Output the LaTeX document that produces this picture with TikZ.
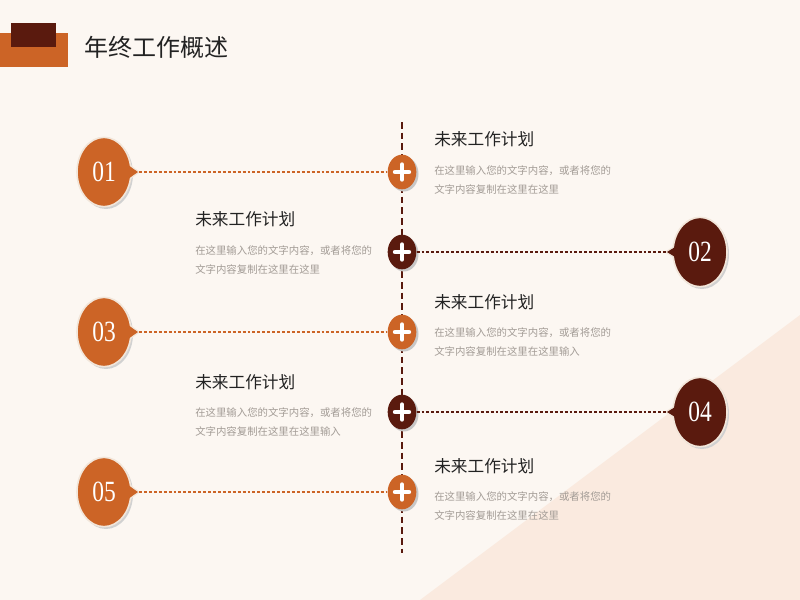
\documentclass[tikz,border=0pt]{standalone}
\usepackage{fontspec}
\newfontfamily\cjk{Noto Sans CJK SC}
\newfontfamily\numfont[FakeStretch=0.8]{Liberation Serif}
\usetikzlibrary{shapes.geometric,calc}
\definecolor{bg}{HTML}{FCF7F2}
\definecolor{tri}{HTML}{FAEADF}
\definecolor{orng}{HTML}{CC6426}
\definecolor{brwn}{HTML}{5A1A0E}
\definecolor{rim}{HTML}{F2E6DA}
\definecolor{desc}{HTML}{A39C96}
\definecolor{ttl}{HTML}{222222}
\begin{document}
\begin{tikzpicture}[x=0.75pt,y=-0.75pt,
  bubble/.style={ellipse,minimum width=40.5pt,minimum height=52pt,inner sep=0pt,text=white,font=\numfont\fontsize{22}{22}\selectfont},
  plusnode/.style={ellipse,minimum width=21.5pt,minimum height=26pt,inner sep=0pt},
  conn/.style={dash pattern=on 2.2pt off 1.5pt,line width=0.9pt},
  vline/.style={draw=brwn,dash pattern=on 5pt off 3pt,line width=1.5pt},
  plusbar/.style={white,line width=3.3pt,line cap=round},
  ttlstyle/.style={anchor=west,inner sep=0pt,text=ttl,font=\cjk\fontsize{12.5}{14}\selectfont},
  descstyle/.style={anchor=north west,inner sep=0pt,align=left,text=desc,font=\cjk\fontsize{7.8}{14.2}\selectfont}]
\useasboundingbox (0,0) rectangle (800,600);
\fill[bg] (0,0) rectangle (800,600);
\fill[tri] (420,600) -- (800,315) -- (800,600) -- cycle;
% header
\fill[orng] (0,33) rectangle (68,67);
\fill[brwn] (11,23) rectangle (56,47);
\node[anchor=west,inner sep=0pt,text=ttl,font=\cjk\fontsize{18}{20}\selectfont] (head) at (84,47) {年终工作概述};
% vertical line
\coordinate (vtop) at (402,122);
\coordinate (vbot) at (402,553);
\draw[vline] (vtop) -- (vbot);
% left bubbles
\foreach \i/\y/\c in {1/172/orng,3/332/orng,5/492/orng}{
  \fill[black!18] (106,\y+2) ellipse (27 and 35);
  \filldraw[fill=\c,draw=rim,line width=1.2pt] (123,\y-15) .. controls (130,\y-6) .. (139,\y) .. controls (130,\y+6) .. (123,\y+15) -- cycle;
  \node[bubble,fill=\c,draw=rim,line width=1.2pt] (b\i) at (104,\y) {0\i};
  \fill[\c] (122,\y-14) .. controls (129,\y-6) .. (138,\y) .. controls (129,\y+6) .. (122,\y+14) -- cycle;
  \coordinate (t\i) at (139,\y);
}
% right bubbles
\foreach \i/\y/\c in {2/252/brwn,4/412/brwn}{
  \fill[black!18] (702,\y+2) ellipse (27 and 35);
  \filldraw[fill=\c,draw=rim,line width=1.2pt] (683,\y-15) .. controls (676,\y-6) .. (666,\y) .. controls (676,\y+6) .. (683,\y+15) -- cycle;
  \node[bubble,fill=\c,draw=rim,line width=1.2pt] (b\i) at (700,\y) {0\i};
  \fill[\c] (684,\y-14) .. controls (677,\y-6) .. (667,\y) .. controls (677,\y+6) .. (684,\y+14) -- cycle;
  \coordinate (t\i) at (666,\y);
}
% plus circles
\foreach \i/\y/\c in {1/172/orng,2/252/brwn,3/332/orng,4/412/brwn,5/492/orng}{
  \fill[black!22] (404,\y+2) ellipse (14.5 and 17.5);
  \node[plusnode,fill=\c] (p\i) at (402,\y) {};
  \draw[plusbar] ($(p\i.center)+(-7,0)$) -- ($(p\i.center)+(7,0)$);
  \draw[plusbar] ($(p\i.center)+(0,-7.5)$) -- ($(p\i.center)+(0,7.5)$);
}
% connectors
\draw[conn,draw=orng] (t1) -- (p1.west);
\draw[conn,draw=orng] (t3) -- (p3.west);
\draw[conn,draw=orng] (t5) -- (p5.west);
\draw[conn,draw=brwn] (p2.east) -- (t2);
\draw[conn,draw=brwn] (p4.east) -- (t4);
% texts
\node[ttlstyle] (h1) at (434,139) {未来工作计划};
\node[descstyle] (d1) at (434,165) {在这里输入您的文字内容，或者将您的\\文字内容复制在这里在这里};
\node[ttlstyle] (h2) at (195,219) {未来工作计划};
\node[descstyle] (d2) at (195,245) {在这里输入您的文字内容，或者将您的\\文字内容复制在这里在这里};
\node[ttlstyle] (h3) at (434,302) {未来工作计划};
\node[descstyle] (d3) at (434,327) {在这里输入您的文字内容，或者将您的\\文字内容复制在这里在这里输入};
\node[ttlstyle] (h4) at (195,382) {未来工作计划};
\node[descstyle] (d4) at (195,407) {在这里输入您的文字内容，或者将您的\\文字内容复制在这里在这里输入};
\node[ttlstyle] (h5) at (434,466) {未来工作计划};
\node[descstyle] (d5) at (434,491) {在这里输入您的文字内容，或者将您的\\文字内容复制在这里在这里};
\end{tikzpicture}
\end{document}
